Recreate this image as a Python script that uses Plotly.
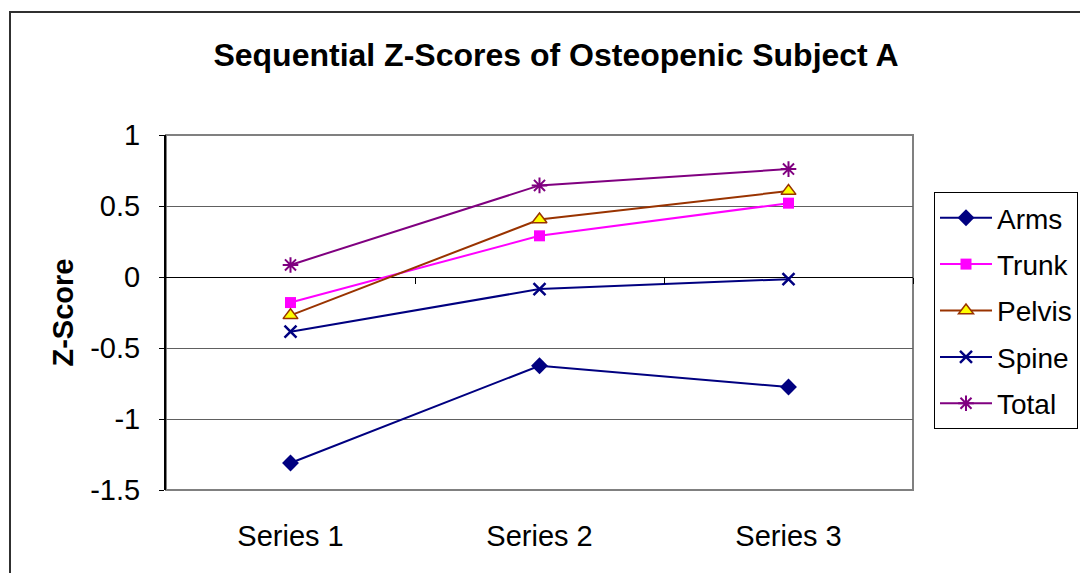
import plotly.graph_objects as go

categories = ["Series 1", "Series 2", "Series 3"]
arms = [-1.31, -0.625, -0.775]
trunk = [-0.18, 0.29, 0.52]
pelvis = [-0.27, 0.405, 0.605]
spine = [-0.385, -0.085, -0.015]
total = [0.085, 0.645, 0.76]

series = [
    ("Arms", arms, "#000080", dict(symbol="diamond", size=13, color="#000080")),
    ("Trunk", trunk, "#FF00FF", dict(symbol="square", size=11, color="#FF00FF")),
    ("Pelvis", pelvis, "#993300", dict(symbol="triangle-up", size=13, color="#FFFF00",
                                        line=dict(color="#993300", width=1.5))),
    ("Spine", spine, "#000080", dict(symbol="x-thin-open", size=12,
                                      line=dict(color="#000080", width=2.5))),
    ("Total", total, "#800080", dict(symbol="asterisk-open", size=13,
                                      line=dict(color="#800080", width=2))),
]

fig = go.Figure()
xpos = list(range(len(categories)))
for name, vals, col, mk in series:
    fig.add_trace(go.Scatter(
        x=xpos, y=vals, name=name, mode="lines+markers",
        line=dict(color=col, width=2), marker=mk,
        legendgroup=name,
    ))

# invisible trace on the overlaying axis to carry tick marks on the zero line
fig.add_trace(go.Scatter(x=[0], y=[0], xaxis="x2", showlegend=False,
                         mode="markers", marker=dict(opacity=0), hoverinfo="skip"))

OFF = 8  # page body margin
W, H = 1088 - OFF, 573 - OFF
L, R, T, B = 166 - OFF, 913 - OFF, 135 - OFF, 490 - OFF
pw, ph = R - L, B - T

fig.update_layout(
    width=W, height=H,
    margin=dict(l=L, r=W - R, t=T, b=H - B),
    paper_bgcolor="white", plot_bgcolor="white",
    font=dict(family="Arial, Liberation Sans, sans-serif", size=29, color="black"),
    title=dict(text="<b>Sequential Z-Scores of Osteopenic Subject A</b>",
               x=(556 - OFF) / W, xanchor="center", xref="container",
               y=1 - (55 - OFF) / H, yanchor="middle", yref="container",
               font=dict(size=32)),
    showlegend=True,
    legend=dict(
        x=(934 - OFF) / W, xref="container", xanchor="left",
        y=1 - (192 - OFF) / H, yref="container", yanchor="top",
        bordercolor="black", borderwidth=1, bgcolor="white",
        font=dict(size=28), traceorder="grouped", tracegroupgap=7,
        itemwidth=52,
    ),
    xaxis=dict(
        range=[-0.5, 2.5], tickmode="array", tickvals=xpos, ticktext=categories,
        showgrid=False, zeroline=False, showline=False, ticks="",
        ticklabelstandoff=26, tickfont=dict(size=29),
    ),
    xaxis2=dict(
        range=[-0.5, 2.5], overlaying="x", anchor="free", position=1.5 / 2.5,
        tickvals=[0.5, 1.5, 2.5], ticks="outside", ticklen=6, tickcolor="black",
        showticklabels=False, showgrid=False, zeroline=False, showline=False,
    ),
    yaxis=dict(
        range=[-1.5, 1], tickvals=[-1.5, -1, -0.5, 0, 0.5, 1],
        ticktext=["-1.5", "-1", "-0.5", "0", "0.5", "1"],
        showgrid=True, gridcolor="#606060", gridwidth=1,
        zeroline=True, zerolinecolor="black", zerolinewidth=1,
        showline=True, linecolor="black", linewidth=2,
        ticks="outside", ticklen=5, tickcolor="black",
        ticklabelstandoff=13,
        tickfont=dict(size=29),
        title=dict(text="<b>Z-Score</b>", font=dict(size=29), standoff=8),
    ),
    shapes=[
        # plot area border
        dict(type="rect", xref="paper", yref="paper", x0=0, x1=1, y0=0, y1=1,
             line=dict(color="#808080", width=2), layer="below"),
        # outer chart border
        dict(type="rect", xref="paper", yref="paper",
             x0=(10 - OFF - L) / pw, x1=(1100 - OFF - L) / pw,
             y0=(B - 590) / ph, y1=(B - (12 - OFF)) / ph,
             line=dict(color="#303030", width=2), layer="below"),
    ],
)

fig.write_html("out.html")
